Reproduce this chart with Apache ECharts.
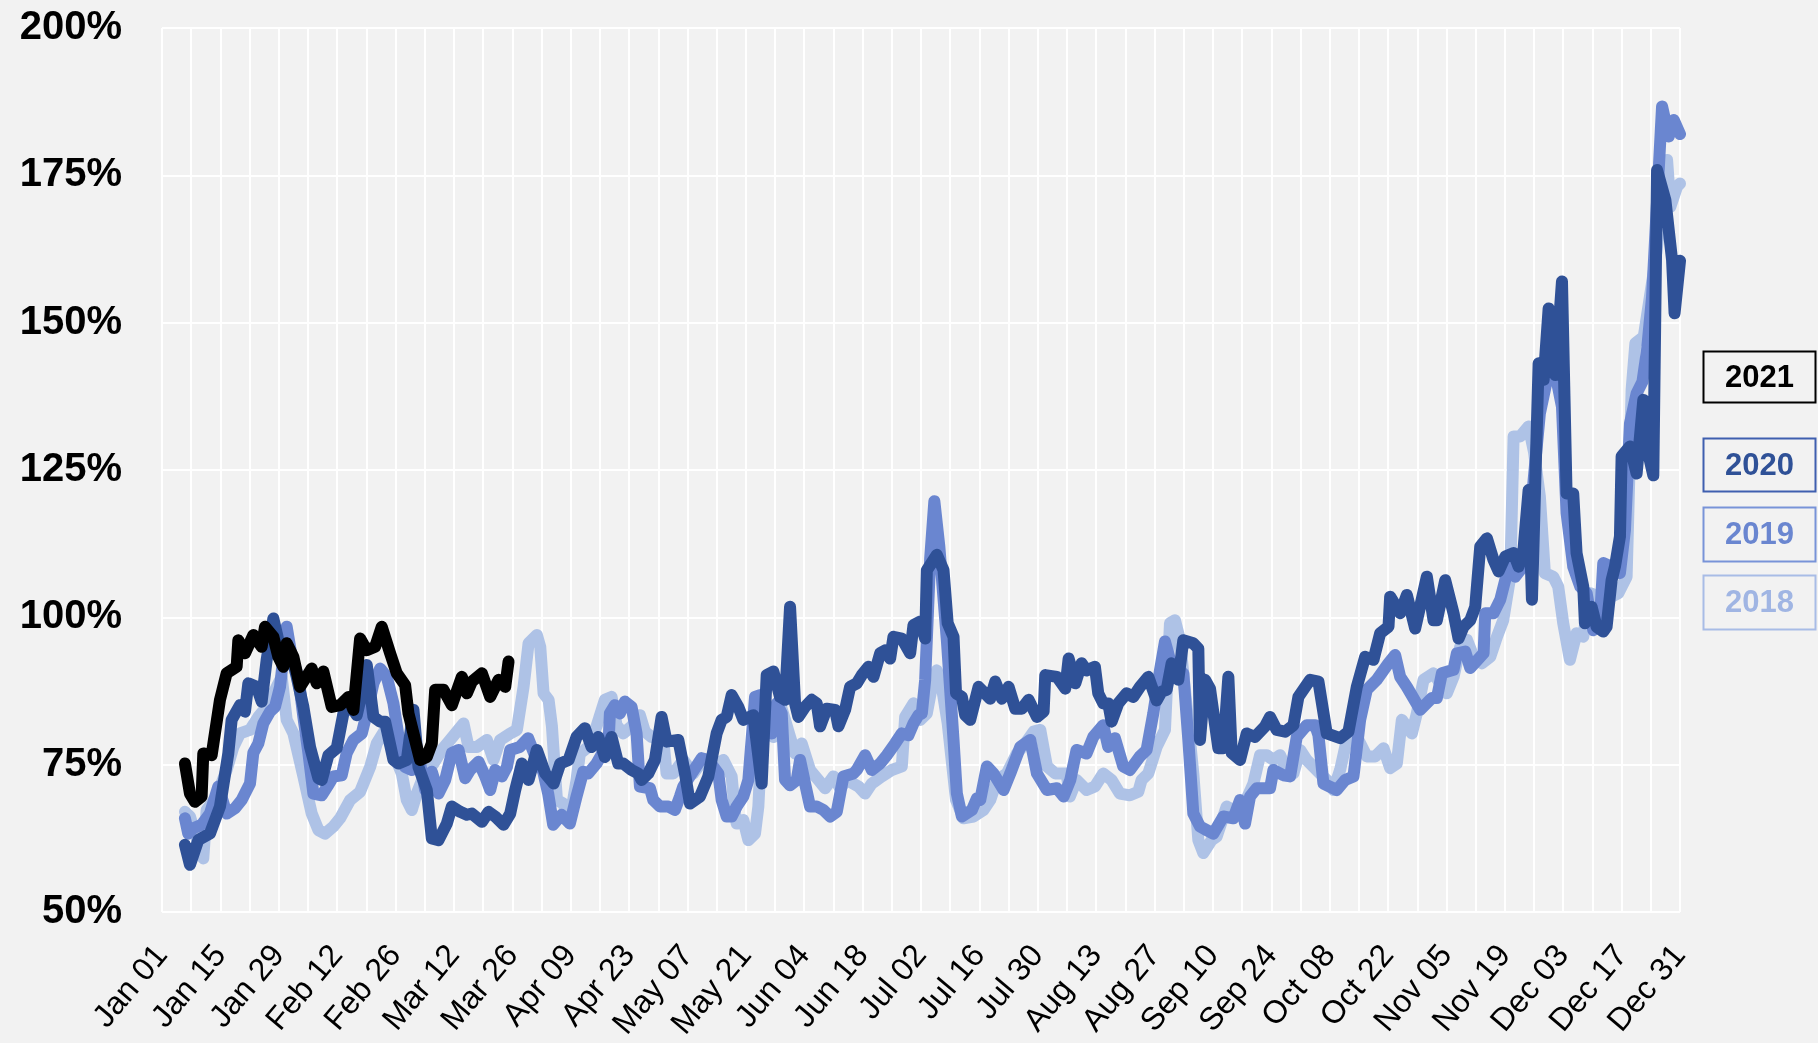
<!DOCTYPE html>
<html lang="en">
<head>
    <meta charset="UTF-8">
    <title>Daily index by year</title>
    <script src="https://cdn.jsdelivr.net/npm/echarts@6/dist/echarts.min.js"></script>
    <style>
        html, body { margin: 0; padding: 0; background: #f2f2f2; }
        #main { width: 1818px; height: 1043px; }
    </style>
</head>
<body>
<div id="main"></div>
<script type="text/javascript">
    // x = day of year (0 = Jan 01), y = percent
    var tickLabels = ['Jan 01','Jan 15','Jan 29','Feb 12','Feb 26','Mar 12','Mar 26','Apr 09','Apr 23','May 07',
        'May 21','Jun 04','Jun 18','Jul 02','Jul 16','Jul 30','Aug 13','Aug 27','Sep 10','Sep 24','Oct 08',
        'Oct 22','Nov 05','Nov 19','Dec 03','Dec 17','Dec 31'];

    var years = ['2021', '2020', '2019', '2018'];

    var data2021 = [[5.5,75.2],[6.7,70.1],[7.9,68.7],[9.5,69.6],[9.9,76.9],[11.9,76.6],[13.9,86],[15.5,90.5],[17.9,91.6],[18.3,96.1],
        [19.9,93.9],[21.9,97],[23.9,95],[24.7,98.4],[26.7,96.7],[27.9,93.3],[29.1,91.6],[29.9,95.6],[31.5,93.3],[33.1,88.2],
        [35.9,91.3],[37.1,88.8],[38.7,90.8],[40.7,84.8],[42.7,85.1],[44.7,86.5],[45.9,84.3],[47.5,96.4],[49.1,94.4],[51.1,95],
        [52.7,98.4],[54.7,93.9],[56.3,90.5],[58.3,88.5],[59.1,83.7],[60.3,80.3],[61.9,75.8],[63.5,76.3],[64.7,78.6],[65.5,87.7],
        [67.5,87.7],[69.5,85.1],[71.9,89.9],[73.1,87.1],[74.3,89.1],[76.7,90.5],[78.7,86.5],[80.7,89.4],[82.3,88.2],[83.1,92.5]];

    var data2020 = [[5.5,61.4],[6.7,58],[8.7,62.2],[11.5,63.3],[13.9,67.9],[15.9,76.9],[16.7,82.6],[18.7,85.1],[19.9,84],[20.7,88.8],
        [22.7,88.2],[23.9,85.7],[25.1,92.8],[26.7,99.8],[27.9,96.1],[29.1,93.3],[30.7,94.4],[32.3,89.9],[33.9,84.8],[35.5,78],
        [37.5,72.7],[38.3,72.4],[39.9,76.6],[41.9,77.8],[43.5,83.7],[45.1,85.1],[46.7,83.4],[47.9,87.1],[49.1,91.9],[50.7,83.1],
        [52.3,82.3],[53.5,82.3],[55.5,75.8],[56.7,75.2],[58.7,75.8],[60.3,84.3],[61.5,74.6],[63.5,70.7],[64.7,62.5],[66.3,62.2],
        [68.3,65],[69.5,67.9],[71.5,67],[73.1,66.5],[74.3,66.7],[76.7,65.3],[78.3,67],[79.9,66.2],[81.9,64.8],[83.5,66.7],
        [84.7,70.7],[86.3,75.2],[87.9,72.4],[89.9,77.5],[91.9,73.5],[93.9,71.8],[95.5,75.2],[97.5,75.8],[99.4,79.7],[101.4,81.2],
        [103,78],[104.6,79.7],[106.2,76.3],[107.8,79.7],[109.4,75.2],[110.6,75.2],[112.6,74.1],[114.2,73.5],[115,72.4],[116.6,73.5],
        [118.2,75.8],[119.8,83.1],[121,78.9],[123.8,79.2],[125.4,73.5],[126.6,68.4],[129,69.6],[131,73],[133,80.3],[134.2,82.6],
        [135.4,83.1],[136.6,86.8],[138.2,84.8],[139.4,82.6],[141.8,83.4],[143.8,71.8],[145,90.2],[146.6,90.8],[148.2,86.5],[149.4,86],
        [150.6,101.8],[151.8,85.4],[152.6,83.1],[154.2,84.8],[155.8,86],[157,85.4],[157.8,81.5],[159.4,84.5],[161.4,84.3],[162.2,81.5],
        [163.8,84.3],[165,88.2],[166.6,88.8],[167.8,90.2],[169.4,91.6],[170.6,89.9],[172.2,93.9],[173.4,94.4],[174.6,93],[175.4,96.7],
        [177.4,96.4],[179.4,93.9],[180.2,98.7],[181.8,99.3],[183,96.4],[183.4,108],[185.8,110.6],[187.4,108],[188.4,99],[189.8,96.7],
        [190.4,87.1],[191.8,86.5],[192.6,83.4],[193.8,82.6],[195.8,88.2],[198.6,86.2],[199.8,89.1],[201.4,86.2],[203,88.2],[204.6,84.5],
        [206.2,84.5],[207.8,86],[209.8,83.1],[211.4,84],[211.8,90.2],[214.6,89.9],[216.6,87.9],[217.4,93],[219,88.8],[220.5,92.2],
        [221.7,91],[223.7,91.6],[224.5,87.1],[225.7,85.4],[226.9,85.4],[227.7,82.3],[229.3,85.4],[231.3,87.1],[232.9,86.5],[234.5,88.2],
        [236.5,89.9],[238.5,85.9],[239.7,87.4],[240.9,87.7],[242.1,92.2],[243.7,89.4],[244.9,96.1],[247.3,95.6],[248.5,94.7],[248.9,79.2],
        [250.1,89.4],[251.3,87.9],[253.3,77.8],[254.5,77.8],[255.7,89.9],[256.5,77],[258.5,75.8],[260.1,80.3],[262.1,79.7],[264.5,81.5],
        [265.7,83.1],[267.3,80.9],[269.3,80.6],[271.3,81.7],[272.5,86.5],[275.3,89.4],[277.3,89.1],[279.3,80.3],[282.5,79.5],[284.5,80.6],
        [286.5,88.2],[288.5,93.3],[290.5,92.8],[292.1,97.3],[294.1,98.4],[294.5,103.5],[296.9,100.7],[298.5,103.8],[300.5,98.1],[303.3,106.9],
        [304.9,99.5],[305.7,99.5],[307.7,106.3],[309.7,100.7],[310.9,96.4],[312.1,98.4],[313.7,99.5],[314.9,101.8],[316.1,112],[317.7,113.4],
        [319.3,109.7],[320.5,107.8],[322.1,110.3],[324.1,110.9],[325.3,108.6],[326.5,111.7],[327.7,121.6],[328.5,103],[330.1,143.1],[331.3,140.3],
        [332.5,152.4],[334.1,141.1],[335.7,157],[336.8,121],[338.4,121],[339.2,110.9],[340.8,105.2],[341.2,99],[342.8,101.8],[344,98.4],
        [345.6,97.6],[346.4,98.4],[347.6,106.3],[348.4,108.6],[349.6,113.7],[350,127.3],[352,129],[353.6,124.4],[355.2,136.9],[356.4,127.8],
        [357.6,124.1],[358.5,175.9],[360.5,170.8],[362.1,160.6],[362.7,151.6],[364,160.5]];

    var data2019 = [[5.5,65.9],[6.3,63.3],[7.5,64.2],[9.5,64.8],[11.5,66.7],[13.5,71.3],[15.5,66.7],[17.5,67.6],[19.1,69],[21.1,71.8],
        [21.9,77],[23.1,78.6],[24.3,82],[25.9,84],[27.1,84.8],[28.3,88.2],[29.9,98.4],[31.1,93.3],[32.7,89.9],[33.9,83.1],
        [35.1,77],[36.3,70.1],[38.3,69.8],[39.9,71.6],[41.1,73],[43.1,73.2],[44.3,77],[45.9,79.2],[47.9,80.3],[49.1,83.7],
        [50.7,88.8],[52.3,91.3],[53.9,89.9],[55.5,85.4],[57.1,78],[58.3,74.6],[59.9,74.1],[61.9,75.2],[63.1,70.7],[64.7,73.8],
        [66.3,70.1],[67.9,72.4],[69.5,77],[71.1,77.5],[72.7,72.7],[73.9,74.1],[75.9,75.5],[77.5,73],[78.7,70.7],[79.9,74.1],
        [81.5,73],[82.7,74.6],[83.5,77.5],[85.8,78],[87.8,79.5],[89.4,76.6],[91.4,73.8],[92.6,70.1],[93.8,64.8],[95.8,66.5],
        [97.8,65],[99.4,69.6],[101,73.8],[102.2,73.5],[104.2,75.2],[105.8,77.2],[107,77.5],[107.4,83.7],[108.6,85.1],[109.8,83.7],
        [111,85.7],[112.6,84.8],[113.8,80.3],[114.6,71.3],[117,71],[117.8,69],[119.4,67.9],[121.4,67.9],[123,67.3],[124.2,69.6],
        [125,71.3],[127,73.5],[129.4,76.1],[131,75.8],[133.4,73.5],[134.2,69],[135.4,66.2],[136.6,66.2],[137.8,67.9],[139.4,69.6],
        [140.6,72.4],[142.2,86.5],[143.4,86.8],[144.6,85.4],[146.2,80.3],[147.4,85.4],[148.6,83.7],[149.4,72.4],[150.6,71.5],[152.2,72.4],
        [153,75.8],[154.2,71.8],[155.4,67.9],[157,67.9],[158.6,67.3],[160.2,66.2],[161.8,67],[163.4,73],[165.8,73.5],[166.6,74.1],
        [168.6,76.6],[170.2,74.1],[172.2,75.2],[173.8,76.6],[175.8,78.6],[177.4,80.3],[179,80],[180.2,82],[181.4,83.4],[182.2,83.7],
        [183,89.4],[184.2,110],[185.2,119.7],[186.4,112],[188.2,96.1],[189.8,79.2],[190.6,70.1],[191.8,66.2],[194.2,67.3],[195.4,69.3],
        [196.2,69],[197.8,74.7],[199.4,73.5],[201.8,70.7],[203.4,73.5],[205.8,78],[208.2,79.2],[209.8,73.5],[212.2,70.7],[214.6,71],
        [216.2,69.6],[217.8,72.4],[219.3,77.5],[221.7,76.9],[223.3,79.7],[225.7,81.7],[226.9,78],[228.5,79.5],[230.5,74.7],[232.1,74.1],
        [234.5,76.4],[236.1,77.5],[237.7,83.7],[239.3,91],[240.5,95.9],[241.7,92.8],[243.7,91],[244.9,90.5],[246.1,79.2],[247.3,66.7],
        [248.9,64.5],[250.5,63.9],[252.1,63.3],[254.5,66.2],[256.9,65.9],[258.5,69],[259.7,65],[260.9,69.6],[262.5,71],[265.7,71],
        [266.5,74.1],[268.9,73.2],[270.5,73],[272.1,79.7],[274.5,81.7],[276.5,81.7],[277.3,80],[278.5,71.8],[281.7,70.7],[283.7,72.4],
        [285.7,73],[287.3,82.6],[288.9,87.7],[291.3,89.4],[294.1,92.2],[295.7,93.6],[296.9,89.9],[298.5,88.2],[301.7,84.3],[304.5,86.3],
        [305.7,86.3],[306.9,90.5],[309.7,91.1],[310.5,93.9],[312.5,94.2],[313.7,91.4],[316.9,93.9],[317.3,100.7],[319.3,100.7],[320.9,103],
        [322.9,108.6],[324.5,106.9],[325.7,108],[327.3,109.2],[328.9,123.3],[330.4,134.6],[332.9,143],[334.5,140],[335.7,135.7],[336.8,117.7],
        [338.4,108.6],[340.1,105.2],[341.6,104.1],[343.2,97.8],[344.8,99.5],[345.6,109.2],[347.6,108.6],[349.6,107.5],[350.8,114.8],[352,132.9],
        [353.6,138],[355,140],[356.1,145.4],[357.3,154.4],[359.7,186.7],[361.3,181.6],[362.5,184.4],[364,182]];

    var data2018 = [[5.5,67],[6.7,66.2],[7.9,63.3],[9.9,59.1],[10.7,67.3],[13.1,69.6],[15.5,74.1],[17.1,78],[18.7,80.3],[21.1,80.9],
        [23.1,83.1],[25.1,84.8],[27.5,88.2],[28.7,89.9],[29.9,82.6],[31.5,80.3],[33.9,73],[35.9,66.7],[37.5,63.9],[39.1,63.3],
        [41.1,64.5],[42.7,65.9],[45.1,69],[47.5,70.4],[49.9,74.6],[51.5,78.6],[53.5,80.9],[55.5,77],[57.5,73.5],[58.7,69],
        [59.9,67.3],[61.1,70.1],[62.7,73],[65.1,75.2],[67.1,77.5],[69.1,79.2],[72.3,82],[73.5,78],[75.5,78],[77.9,79.2],
        [79.5,75.8],[81.1,79.2],[83.5,80.3],[85.1,80.9],[86.7,88.2],[87.9,95.6],[89.9,97],[90.7,95],[91.5,87.1],[92.7,86],
        [93.5,81.5],[94.7,69],[96.2,68.4],[97.8,65.6],[99.4,72.4],[100.2,76.9],[102.2,78],[104.2,81.5],[106.2,86],[107.8,86.5],
        [109,81.7],[110.6,80.3],[112.6,81.5],[114.6,83.4],[115.8,80.6],[117.4,79.7],[120.2,79.2],[121,73.5],[122.6,73.5],[125,75.8],
        [127.4,73.5],[129.8,75.8],[132.2,74.7],[134.6,75.8],[136.6,73],[137.4,66.7],[137.8,65],[139.4,65.6],[140.6,62.2],[142.2,63.3],
        [143,67.9],[143.8,79.2],[145,83.7],[146.6,79.7],[148.2,85.4],[149.4,82.6],[150.6,79.7],[151.8,76.9],[153.4,78.6],[155.4,74.1],
        [157.4,72.4],[159,71],[161,73],[162.6,71],[164.2,72.4],[167,71.3],[168.6,70.1],[170.2,71.8],[172.6,73],[175,74.1],
        [177.4,74.7],[178.2,83.1],[180.2,85.4],[181.8,82.6],[183.4,83.7],[184.6,88.2],[185.8,91],[187,88.2],[188.4,82],[190.4,69],
        [192.2,65.9],[194.6,66.2],[197,67.3],[198.6,69],[200.2,72.4],[202.6,73.5],[205,76.9],[207,78.6],[209,80.6],[210.6,80.9],
        [212.2,74.7],[214.2,73.5],[216.9,73.5],[217.7,69.6],[219.3,72.4],[221.7,70.7],[223.7,71.3],[225.7,73.5],[227.7,72.4],[229.7,70.1],
        [232.1,69.8],[234.1,70.4],[234.9,72.4],[236.5,73.5],[238.5,78],[240.5,80.9],[241.7,99],[242.9,99.5],[244.1,96.1],[245.7,84.8],
        [247.3,73.5],[248.5,62.2],[249.7,60],[251.7,62.2],[252.9,62.8],[255.3,67.9],[256.9,67.3],[259.3,67.9],[261.7,71.8],[263.3,76.6],
        [264.9,76.6],[266.5,75.8],[268.1,76.6],[269.7,74.1],[271.3,73.5],[272.9,77.5],[274.5,75.8],[277.7,73.5],[279.3,72.4],[280.9,70.7],
        [282.5,74.1],[284.1,79.2],[286.9,79.2],[288.9,76.4],[290.9,76.4],[292.9,77.8],[294.5,74.4],[296.1,75.2],[297.3,82.6],[299.7,80.3],
        [300.9,83.7],[302.5,89.4],[304.9,90.5],[308.1,87.1],[309.7,89.9],[311.3,95],[312.9,96.2],[314.5,93.3],[316.5,92.2],[318.5,93.3],
        [320.1,96.7],[321.6,99.5],[323.3,106.9],[324.1,130.7],[325.7,130.7],[327.7,132.4],[329,128],[330.4,120.5],[331.6,107.5],[333.6,106.9],
        [334.8,105.2],[336,99],[337.6,92.8],[339.2,97.3],[340.8,96.7],[342.4,104.1],[344.8,103.5],[347.6,103.5],[349.2,104.1],[351.2,106.9],
        [352.4,138.6],[353.3,146.5],[355.3,147.6],[358,160],[360.9,177.6],[361.7,169.7],[363.3,173.1],[364,173.6]];

    var lineColors = ['#000000', '#2F5197', '#6A86D0', '#AEC2E6'];
    var boxColors = ['#000000', '#3F5FAF', '#7893D8', '#A8BCE6'];
    var textColors = ['#000000', '#2F5197', '#6A86D0', '#A0B5E3'];

    var myChart = echarts.init(document.getElementById('main'));

    function makeLine(name, data, color) {
        return {
            name: name,
            type: 'line',
            data: data,
            showSymbol: false,
            symbol: 'none',
            lineStyle: { color: color, width: 12, cap: 'round', join: 'round' },
            itemStyle: { color: color }
        };
    }

    // legend boxes on the right
    var boxY = [349, 436, 505, 573];
    var boxH = [51, 53, 54, 54];
    var legendGraphics = years.map(function (y, i) {
        return {
            type: 'group',
            left: 1701,
            top: boxY[i],
            children: [
                {
                    type: 'rect',
                    shape: { x: 0, y: 0, width: 112, height: boxH[i] },
                    style: { fill: 'none', stroke: boxColors[i], lineWidth: 2 }
                },
                {
                    type: 'text',
                    x: 56,
                    y: boxH[i] / 2 + 1,
                    style: {
                        text: y,
                        fill: textColors[i],
                        font: 'bold 31px "Liberation Sans", Arial, sans-serif',
                        textAlign: 'center',
                        textVerticalAlign: 'middle'
                    }
                }
            ]
        };
    });

    var option = {
        backgroundColor: '#f2f2f2',
        animation: false,
        grid: { left: 162, right: 138, top: 28, bottom: 131 },
        xAxis: {
            type: 'value',
            min: 0,
            max: 364,
            interval: 7,
            axisLine: { show: false },
            axisTick: { show: false },
            splitLine: { show: true, lineStyle: { color: '#ffffff', width: 2 } },
            axisLabel: {
                rotate: 50,
                margin: 38,
                color: '#000',
                fontSize: 32,
                fontFamily: '"Liberation Sans", Arial, sans-serif',
                formatter: function (v) {
                    return v % 14 === 0 ? tickLabels[v / 14] : '';
                }
            }
        },
        yAxis: {
            type: 'value',
            min: 50,
            max: 200,
            interval: 25,
            axisLine: { show: false },
            axisTick: { show: false },
            splitLine: { show: true, lineStyle: { color: '#ffffff', width: 2 } },
            axisLabel: {
                margin: 40,
                color: '#000',
                fontSize: 40,
                fontWeight: 'bold',
                fontFamily: '"Liberation Sans", Arial, sans-serif',
                formatter: '{value}%'
            }
        },
        graphic: legendGraphics,
        series: [
            makeLine('2018', data2018, lineColors[3]),
            makeLine('2019', data2019, lineColors[2]),
            makeLine('2020', data2020, lineColors[1]),
            makeLine('2021', data2021, lineColors[0])
        ]
    };

    myChart.setOption(option);
</script>
</body>
</html>
